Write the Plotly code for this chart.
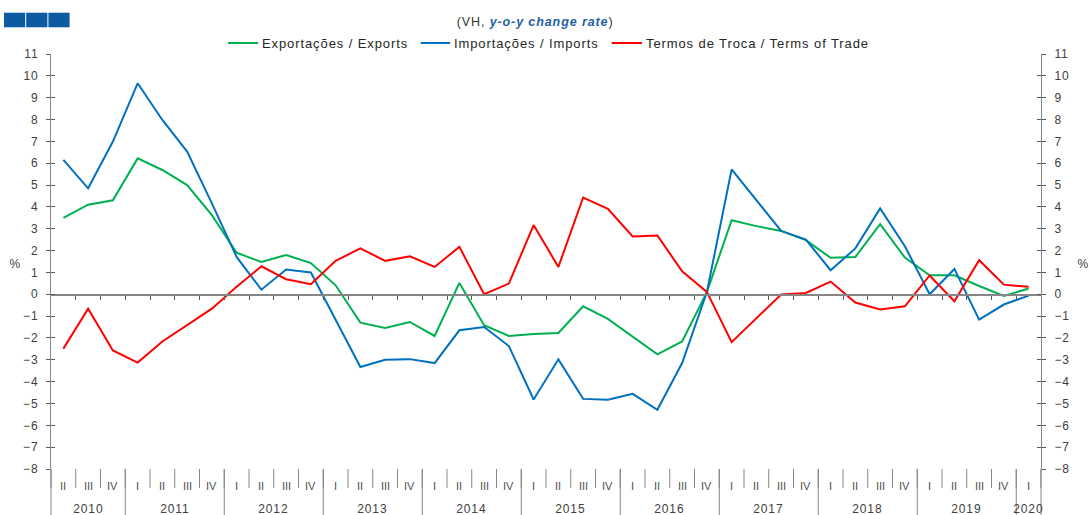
import plotly.graph_objects as go

quarters = (["II", "III", "IV"] + ["I", "II", "III", "IV"] * 9 + ["I"])
years = ["2010", "2011", "2012", "2013", "2014", "2015", "2016", "2017", "2018", "2019", "2020"]
year_counts = [3, 4, 4, 4, 4, 4, 4, 4, 4, 4, 1]

exports = [3.5, 4.1, 4.3, 6.22, 5.69, 5.0, 3.62, 1.9, 1.48, 1.8,
           1.43, 0.41, -1.3, -1.54, -1.27, -1.91, 0.52, -1.42, -1.91, -1.82,
           -1.77, -0.55, -1.13, -1.96, -2.75, -2.16, 0.1, 3.39, 3.12, 2.9,
           2.48, 1.67, 1.71, 3.21, 1.68, 0.87, 0.87, 0.38, -0.08, 0.26]
imports = [6.15, 4.85, 6.99, 9.66, 7.98, 6.53, 4.16, 1.71, 0.21, 1.13,
           1.0, -1.19, -3.33, -3.0, -2.97, -3.15, -1.65, -1.5, -2.37, -4.82,
           -2.98, -4.79, -4.83, -4.56, -5.29, -3.15, 0.1, 5.72, 4.31, 2.9,
           2.5, 1.1, 2.1, 3.93, 2.2, 0.0, 1.16, -1.16, -0.47, -0.06]
terms = [-2.49, -0.66, -2.57, -3.13, -2.16, -1.42, -0.66, 0.34, 1.28, 0.69,
         0.46, 1.53, 2.1, 1.53, 1.74, 1.25, 2.17, 0.0, 0.49, 3.17,
         1.25, 4.43, 3.91, 2.65, 2.69, 1.05, 0.11, -2.19, -1.12, -0.01,
         0.06, 0.58, -0.38, -0.7, -0.55, 0.86, -0.32, 1.56, 0.44, 0.34]

series_names = ["Exportações / Exports", "Importações / Imports", "Termos de Troca / Terms of Trade"]
series_colors = ["#00B050", "#0070C0", "#FF0000"]

FONT = "Liberation Sans, Arial, sans-serif"
TXT = "#404040"
AX = "#868686"

W, H = 1090, 515
ML, MR, MT, MB = 51, 49, 54, 46
PW, PH = W - ML - MR, H - MT - MB
YMIN, YMAX = -8, 11
n = len(quarters)


def px2x(px):
    return (px - ML) / PW


def py2y(py):
    return (H - MB - py) / PH


fig = go.Figure()
x = list(range(n))
for name, vals, col in zip(series_names, [exports, imports, terms], series_colors):
    fig.add_trace(go.Scatter(x=x, y=vals, mode="lines", name=name,
                             line=dict(color=col, width=2), showlegend=False))

# helper traces for extra axes
for ax in ["y2", "y3", "y4"]:
    fig.add_trace(go.Scatter(x=[None], y=[None], yaxis=ax, showlegend=False, hoverinfo="skip"))

yticks = list(range(YMIN, YMAX + 1))
common_y = dict(range=[YMIN, YMAX], tickvals=yticks, showgrid=False, zeroline=False,
                showline=True, linecolor=AX, linewidth=1, tickcolor="#595959", ticklen=4,
                tickfont=dict(family=FONT, size=12, color=TXT), fixedrange=True)

fig.update_layout(
    width=W, height=H,
    margin=dict(l=ML, r=MR, t=MT, b=MB),
    paper_bgcolor="white", plot_bgcolor="white",
    xaxis=dict(range=[-0.5, n - 0.5], showgrid=False, zeroline=False, showticklabels=False,
               showline=True, linecolor=AX, linewidth=1.5, ticks="outside", ticklen=4,
               tickcolor="#595959", tickvals=[i + 0.5 for i in range(n - 1)],
               anchor="free", position=(0 - YMIN) / (YMAX - YMIN), fixedrange=True),
    yaxis=dict(**common_y, side="left", ticks="outside", ticklabelstandoff=5),
    yaxis2=dict(**common_y, side="right", overlaying="y", ticks="outside", ticklabelstandoff=6),
    yaxis3=dict(**common_y, side="left", overlaying="y", ticks="inside", showticklabels=False),
    yaxis4=dict(**common_y, side="right", overlaying="y", ticks="inside", showticklabels=False),
    showlegend=False,
)

shapes = []
annotations = []

# logo squares
for k in range(3):
    shapes.append(dict(type="rect", xref="paper", yref="paper",
                       x0=px2x(4 + k * 22.2), x1=px2x(4 + k * 22.2 + 21.2),
                       y0=py2y(27.3), y1=py2y(12.7),
                       fillcolor="#0B5AA2", line=dict(width=0)))

# title
annotations.append(dict(xref="paper", yref="paper", x=px2x(535), y=py2y(22),
                        text="(VH, <b><i><span style='color:#1F5FA6'>y-o-y change rate</span></i></b>)",
                        showarrow=False, font=dict(family=FONT, size=12.5, color="#333333"),
                        xanchor="center", yanchor="middle"))

# legend
leg_pos = [(228, 258, 261), (420.7, 450, 453), (611.7, 642, 645)]
for (l0, l1, tx), name, col in zip(leg_pos, series_names, series_colors):
    shapes.append(dict(type="line", xref="paper", yref="paper", x0=px2x(l0), x1=px2x(l1),
                       y0=py2y(43), y1=py2y(43), line=dict(color=col, width=2)))
    annotations.append(dict(xref="paper", yref="paper", x=px2x(tx), y=py2y(43), text=name,
                            showarrow=False, font=dict(family=FONT, size=13, color="#262626"),
                            xanchor="left", yanchor="middle", align="left", borderpad=0))

# % labels
for xp in [15, 1083]:
    annotations.append(dict(xref="paper", yref="paper", x=px2x(xp), y=py2y(264), text="%",
                            showarrow=False, font=dict(family=FONT, size=12, color=TXT),
                            xanchor="center", yanchor="middle"))

# category axis separators and labels
bottom_px = H - MB
for b in range(n + 1):
    bx = b / n
    shapes.append(dict(type="line", xref="paper", yref="paper", x0=bx, x1=bx,
                       y0=py2y(bottom_px), y1=py2y(488),
                       line=dict(color=AX, width=1)))
for i, q in enumerate(quarters):
    annotations.append(dict(xref="paper", yref="paper", x=(i + 0.5) / n, y=py2y(486), text=q,
                            showarrow=False, font=dict(family=FONT, size=11, color="#505050"),
                            xanchor="center", yanchor="middle"))
start = 0
for yr, cnt in zip(years, year_counts):
    shapes.append(dict(type="line", xref="paper", yref="paper", x0=start / n, x1=start / n,
                       y0=py2y(bottom_px), y1=py2y(H), line=dict(color=AX, width=1)))
    annotations.append(dict(xref="paper", yref="paper", x=(start + cnt / 2) / n, y=py2y(509),
                            text=yr, showarrow=False, font=dict(family=FONT, size=12, color=TXT),
                            xanchor="center", yanchor="middle"))
    start += cnt
shapes.append(dict(type="line", xref="paper", yref="paper", x0=1, x1=1,
                   y0=py2y(bottom_px), y1=py2y(H), line=dict(color=AX, width=1)))

fig.update_layout(shapes=shapes, annotations=annotations)

post = (
    "var s=document.createElement('style');"
    "s.innerHTML='html,body{margin:0;padding:0;overflow:hidden}';"
    "document.head.appendChild(s);"
    "var gd=document.getElementById('{plot_id}');"
    "function sp(){document.querySelectorAll('.main-svg text').forEach(function(t){"
    "if(!/^[IV]+$/.test(t.textContent.trim())){t.style.letterSpacing='0.9px';}});}"
    "sp(); if(gd && gd.on){gd.on('plotly_afterplot', sp);}"
)
fig.write_html("out.html", post_script=post, config={"displayModeBar": False, "staticPlot": True})
